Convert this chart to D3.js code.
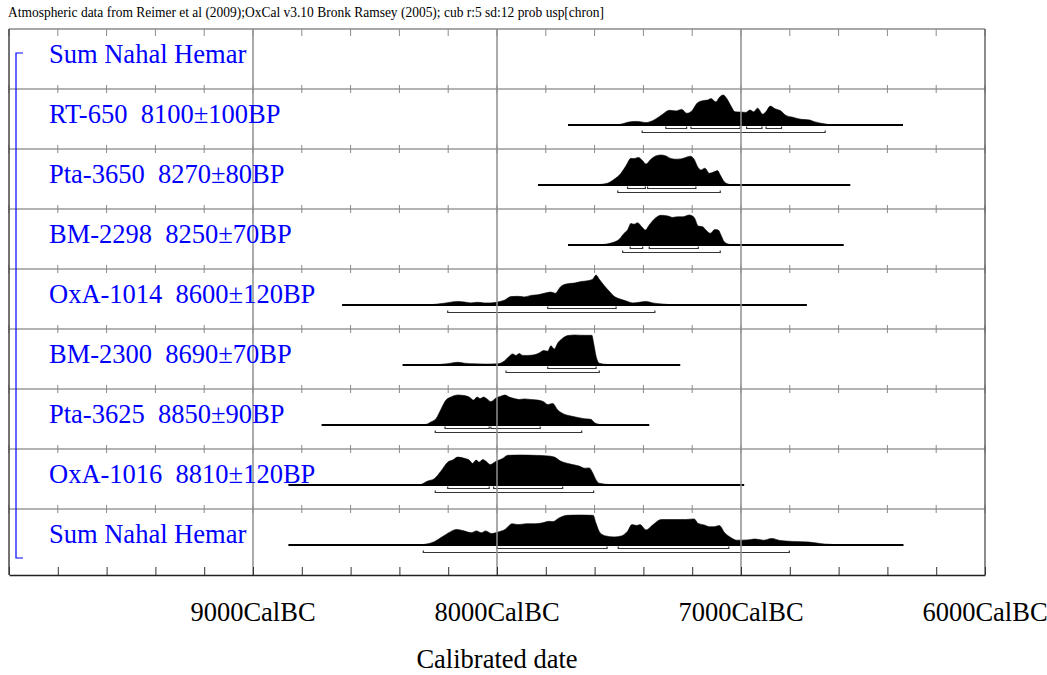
<!DOCTYPE html>
<html>
<head>
<meta charset="utf-8">
<script src="https://cdn.jsdelivr.net/npm/d3@7"></script>
<style>
  html, body { margin: 0; padding: 0; background: #fff; }
  svg { display: block; }
  text { font-family: 'Liberation Serif', 'Times New Roman', serif; }
</style>
</head>
<body>
<svg id="chart" width="1047" height="675"></svg>
<script>
// Row labels, top to bottom
const labels = [
  "Sum Nahal Hemar",
  "RT-650  8100\u00b1100BP",
  "Pta-3650  8270\u00b180BP",
  "BM-2298  8250\u00b170BP",
  "OxA-1014  8600\u00b1120BP",
  "BM-2300  8690\u00b170BP",
  "Pta-3625  8850\u00b190BP",
  "OxA-1016  8810\u00b1120BP",
  "Sum Nahal Hemar"
];

// Calibrated probability distributions: [year BC, relative probability]
const rt650 = [[7560,0],[7505,0.01],[7451,0.11],[7424,0.12],[7390,0.08],[7356,0.17],[7321,0.36],[7294,0.49],[7267,0.47],[7243,0.52],[7222,0.39],[7205,0.44],[7178,0.74],[7157,0.81],[7137,0.83],[7123,0.88],[7103,0.77],[7089,0.92],[7073,1],[7059,0.89],[7041,0.63],[7025,0.44],[7000,0.43],[6980,0.42],[6963,0.5],[6948,0.44],[6932,0.56],[6911,0.36],[6898,0.44],[6880,0.63],[6861,0.54],[6839,0.48],[6816,0.32],[6788,0.26],[6754,0.19],[6720,0.17],[6700,0.11],[6659,0.04],[6631,0]];
const pta3650 = [[7600,0],[7588,0.01],[7547,0.06],[7520,0.19],[7492,0.39],[7472,0.63],[7451,0.89],[7438,0.88],[7421,0.92],[7403,0.81],[7390,0.7],[7369,0.86],[7349,0.97],[7328,1],[7308,0.97],[7287,0.88],[7267,0.86],[7246,0.87],[7226,0.92],[7208,0.96],[7192,0.86],[7178,0.61],[7164,0.5],[7148,0.56],[7130,0.39],[7110,0.44],[7096,0.48],[7085,0.33],[7069,0.11],[7048,0.02],[7030,0]];
const bm2298 = [[7600,0],[7574,0.01],[7526,0.08],[7499,0.19],[7479,0.39],[7465,0.5],[7451,0.72],[7438,0.69],[7424,0.74],[7407,0.61],[7392,0.5],[7376,0.67],[7356,0.86],[7328,0.99],[7301,0.97],[7280,0.92],[7260,0.94],[7239,0.94],[7212,1],[7192,0.92],[7175,0.63],[7157,0.61],[7144,0.5],[7126,0.39],[7107,0.52],[7093,0.5],[7082,0.33],[7069,0.11],[7048,0.02],[7030,0]];
const oxa1014 = [[8300,0],[8271,0.01],[8216,0.06],[8161,0.12],[8134,0.1],[8107,0.07],[8079,0.09],[8052,0.07],[8025,0.07],[7997,0.1],[7970,0.16],[7943,0.28],[7915,0.29],[7888,0.27],[7861,0.32],[7833,0.34],[7806,0.39],[7779,0.43],[7762,0.39],[7738,0.62],[7710,0.71],[7683,0.73],[7656,0.78],[7628,0.81],[7608,0.86],[7594,1],[7581,0.86],[7560,0.64],[7540,0.46],[7520,0.29],[7492,0.19],[7465,0.12],[7444,0.07],[7417,0.09],[7390,0.12],[7362,0.07],[7335,0.04],[7246,0]];
const bm2300 = [[8260,0],[8230,0.02],[8189,0.06],[8161,0.09],[8134,0.06],[8093,0.04],[8038,0.03],[7997,0.04],[7970,0.13],[7950,0.29],[7936,0.37],[7922,0.32],[7909,0.38],[7895,0.32],[7874,0.32],[7847,0.34],[7827,0.4],[7809,0.48],[7792,0.46],[7779,0.64],[7765,0.53],[7751,0.73],[7731,0.89],[7710,0.98],[7683,1],[7642,0.99],[7611,0.99],[7604,0.73],[7594,0.29],[7581,0.06],[7553,0.02],[7500,0]];
const pta3625 = [[8320,0],[8291,0.02],[8271,0.1],[8250,0.21],[8230,0.52],[8209,0.83],[8189,0.93],[8159,1],[8134,0.98],[8114,0.93],[8096,0.83],[8082,0.93],[8069,0.88],[8055,0.93],[8041,0.87],[8025,0.78],[8004,0.9],[7984,0.96],[7967,1],[7950,0.93],[7929,0.88],[7909,0.85],[7888,0.87],[7861,0.85],[7833,0.83],[7806,0.76],[7792,0.68],[7772,0.72],[7751,0.5],[7724,0.36],[7697,0.3],[7669,0.25],[7642,0.21],[7615,0.19],[7601,0.08],[7581,0.02],[7560,0]];
const oxa1016 = [[8340,0],[8312,0.02],[8284,0.13],[8257,0.21],[8230,0.46],[8202,0.76],[8182,0.83],[8161,0.93],[8134,0.89],[8114,0.83],[8100,0.72],[8086,0.83],[8073,0.76],[8059,0.85],[8045,0.79],[8028,0.68],[8004,0.79],[7977,0.88],[7956,0.99],[7902,1],[7847,0.99],[7792,0.97],[7765,0.93],[7738,0.79],[7710,0.72],[7690,0.68],[7663,0.63],[7642,0.56],[7622,0.57],[7608,0.41],[7594,0.17],[7581,0.06],[7533,0.01],[7500,0]];
const sumNahalHemar = [[8330,0],[8299,0.02],[8257,0.11],[8223,0.28],[8198,0.41],[8164,0.52],[8140,0.48],[8106,0.41],[8084,0.47],[8064,0.41],[8047,0.47],[8022,0.38],[7997,0.43],[7967,0.52],[7938,0.71],[7913,0.68],[7880,0.71],[7846,0.71],[7812,0.74],[7787,0.79],[7771,0.78],[7746,0.9],[7712,0.99],[7662,1],[7606,0.99],[7595,0.74],[7578,0.41],[7553,0.3],[7520,0.27],[7491,0.3],[7464,0.47],[7447,0.68],[7427,0.65],[7414,0.68],[7389,0.5],[7360,0.68],[7327,0.85],[7276,0.85],[7226,0.85],[7192,0.87],[7176,0.72],[7151,0.67],[7129,0.61],[7109,0.61],[7089,0.65],[7067,0.41],[7042,0.25],[7017,0.16],[6974,0.17],[6941,0.2],[6908,0.16],[6874,0.22],[6840,0.15],[6790,0.12],[6723,0.1],[6656,0.03],[6589,0.01],[6550,0]];

// Distribution per row (row 0 is the empty group header)
const distributions = [null, rt650, pta3650, bm2298, oxa1014, bm2300, pta3625, oxa1016, sumNahalHemar];

// Extent of each baseline, [from BC, to BC]
const spans = [null, [7709,6336], [7832,6552], [7709,6579], [8635,6730], [8387,7249], [8719,7376], [8855,6987], [8855,6334]];

// Highest posterior density ranges
const hpd68 = [null,
  [[7308,7223],[7205,7004],[6977,6914],[6897,6834]],
  [[7465,7392],[7383,7185]],
  [[7454,7403],[7376,7175]],
  [[7792,7512]],
  [[7792,7594]],
  [[8213,8032],[8025,7823]],
  [[8202,8032],[8014,7731]],
  [[8000,7549],[7503,7050]]
];
const hpd95 = [null,
  [[7405,6655]],
  [[7505,7085]],
  [[7485,7085]],
  [[8202,7353]],
  [[7963,7581]],
  [[8253,7653]],
  [[8253,7604]],
  [[8302,6802]]
];

// Axis ticks
const majorTicks = [9000, 8000, 7000, 6000];
const minorTicks = d3.range(10000, 5999, -200);
const tickLabel = d => d + "CalBC";
const title = "Atmospheric data from Reimer et al (2009);OxCal v3.10 Bronk Ramsey (2005); cub r:5 sd:12 prob usp[chron]";
const axisTitle = "Calibrated date";

const svg = d3.select("#chart");
const plotTop = 29, plotBottom = 575, rowPitch = 60, peakHeight = 30;

const x = d3.scaleLinear().domain([10000, 6000]).range([9, 985]);
const rowTop = d3.scaleLinear().domain([0, 1]).range([plotTop, plotTop + rowPitch]);
const baseY = i => rowTop(i) + 36;
const h = d3.scaleLinear().domain([0, 1]).range([0, peakHeight]);

// Title line
svg.append("text")
  .attr("x", 8).attr("y", 17)
  .attr("font-size", 14)
  .attr("textLength", 596)
  .attr("lengthAdjust", "spacingAndGlyphs")
  .attr("fill", "#000")
  .text(title);

// Distributions
const gDist = svg.append("g");
distributions.forEach((dist, i) => {
  if (!dist) return;
  const b = baseY(i);
  const area = d3.area()
    .x(d => x(d[0]))
    .y0(b)
    .y1(d => b - h(d[1]))
    .curve(d3.curveMonotoneX);
  gDist.append("path")
    .datum(dist)
    .attr("d", area)
    .attr("fill", "#000")
    .attr("stroke", "#000")
    .attr("stroke-width", 0.6);
  gDist.append("line")
    .attr("x1", x(spans[i][0])).attr("x2", x(spans[i][1]))
    .attr("y1", b).attr("y2", b)
    .attr("stroke", "#000").attr("stroke-width", 2);

  const drawRanges = (ranges, off) => {
    ranges.forEach(r => {
      const y = b + off;
      gDist.append("path")
        .attr("d", `M${x(r[0])},${y - 2}V${y}H${x(r[1])}V${y - 2}`)
        .attr("fill", "none")
        .attr("stroke", "#333")
        .attr("stroke-width", 1.2);
    });
  };
  drawRanges(hpd68[i], 3.5);
  drawRanges(hpd95[i], 7.5);
});

// Grid: row separators with crossing ticks
const gGrid = svg.append("g");
d3.range(1, 9).forEach(i => {
  const y = rowTop(i);
  gGrid.append("line")
    .attr("x1", x(10000)).attr("x2", x(6000))
    .attr("y1", y).attr("y2", y)
    .attr("stroke", "#9a9a9a").attr("stroke-width", 1.5);
  gGrid.selectAll(null).data(minorTicks).enter().append("line")
    .attr("x1", d => x(d)).attr("x2", d => x(d))
    .attr("y1", y - 4).attr("y2", y + 4)
    .attr("stroke", "#8a8a8a").attr("stroke-width", 1);
});

// Top border with downward ticks
gGrid.append("line")
  .attr("x1", x(10000)).attr("x2", x(6000))
  .attr("y1", plotTop).attr("y2", plotTop)
  .attr("stroke", "#8a8a8a").attr("stroke-width", 1.5);
gGrid.selectAll(null).data(minorTicks).enter().append("line")
  .attr("x1", d => x(d)).attr("x2", d => x(d))
  .attr("y1", plotTop).attr("y2", plotTop + 7)
  .attr("stroke", "#8a8a8a").attr("stroke-width", 1);

// Vertical millennium lines
gGrid.selectAll(null).data([9000, 8000, 7000]).enter().append("line")
  .attr("x1", d => x(d)).attr("x2", d => x(d))
  .attr("y1", plotTop).attr("y2", plotBottom)
  .attr("stroke", "#8f8f8f").attr("stroke-width", 1.5);

// Left and right borders
gGrid.append("line")
  .attr("x1", x(10000)).attr("x2", x(10000))
  .attr("y1", plotTop).attr("y2", plotBottom)
  .attr("stroke", "#444").attr("stroke-width", 1.5);
gGrid.append("line")
  .attr("x1", x(6000)).attr("x2", x(6000))
  .attr("y1", plotTop).attr("y2", plotBottom)
  .attr("stroke", "#666").attr("stroke-width", 1.5);

// Bottom axis
const axis = d3.axisBottom(x)
  .tickValues(minorTicks)
  .tickSize(-8)
  .tickSizeOuter(0)
  .tickFormat("");
const gAxis = svg.append("g")
  .attr("transform", `translate(0,${plotBottom})`)
  .call(axis);
gAxis.select(".domain").attr("stroke", "#222").attr("stroke-width", 1.5);
gAxis.selectAll(".tick line").attr("stroke", "#333").attr("stroke-width", 1);

// Axis labels
svg.selectAll(null).data(majorTicks).enter().append("text")
  .attr("x", d => x(d)).attr("y", 621)
  .attr("text-anchor", "middle")
  .attr("font-size", 26.5)
  .attr("fill", "#000")
  .text(tickLabel);
svg.append("text")
  .attr("x", x(8000)).attr("y", 668)
  .attr("text-anchor", "middle")
  .attr("font-size", 26.5)
  .attr("fill", "#000")
  .text(axisTitle);

// Row labels
svg.selectAll(null).data(labels).enter().append("text")
  .attr("x", 49)
  .attr("y", (d, i) => rowTop(i) + 34)
  .attr("font-size", 26.5)
  .attr("fill", "#0000ff")
  .style("white-space", "pre")
  .text(d => d);

// Group bracket
svg.append("path")
  .attr("d", `M23,53H16V558H23`)
  .attr("fill", "none")
  .attr("stroke", "#0000ff")
  .attr("stroke-width", 1.2);
</script>
</body>
</html>
